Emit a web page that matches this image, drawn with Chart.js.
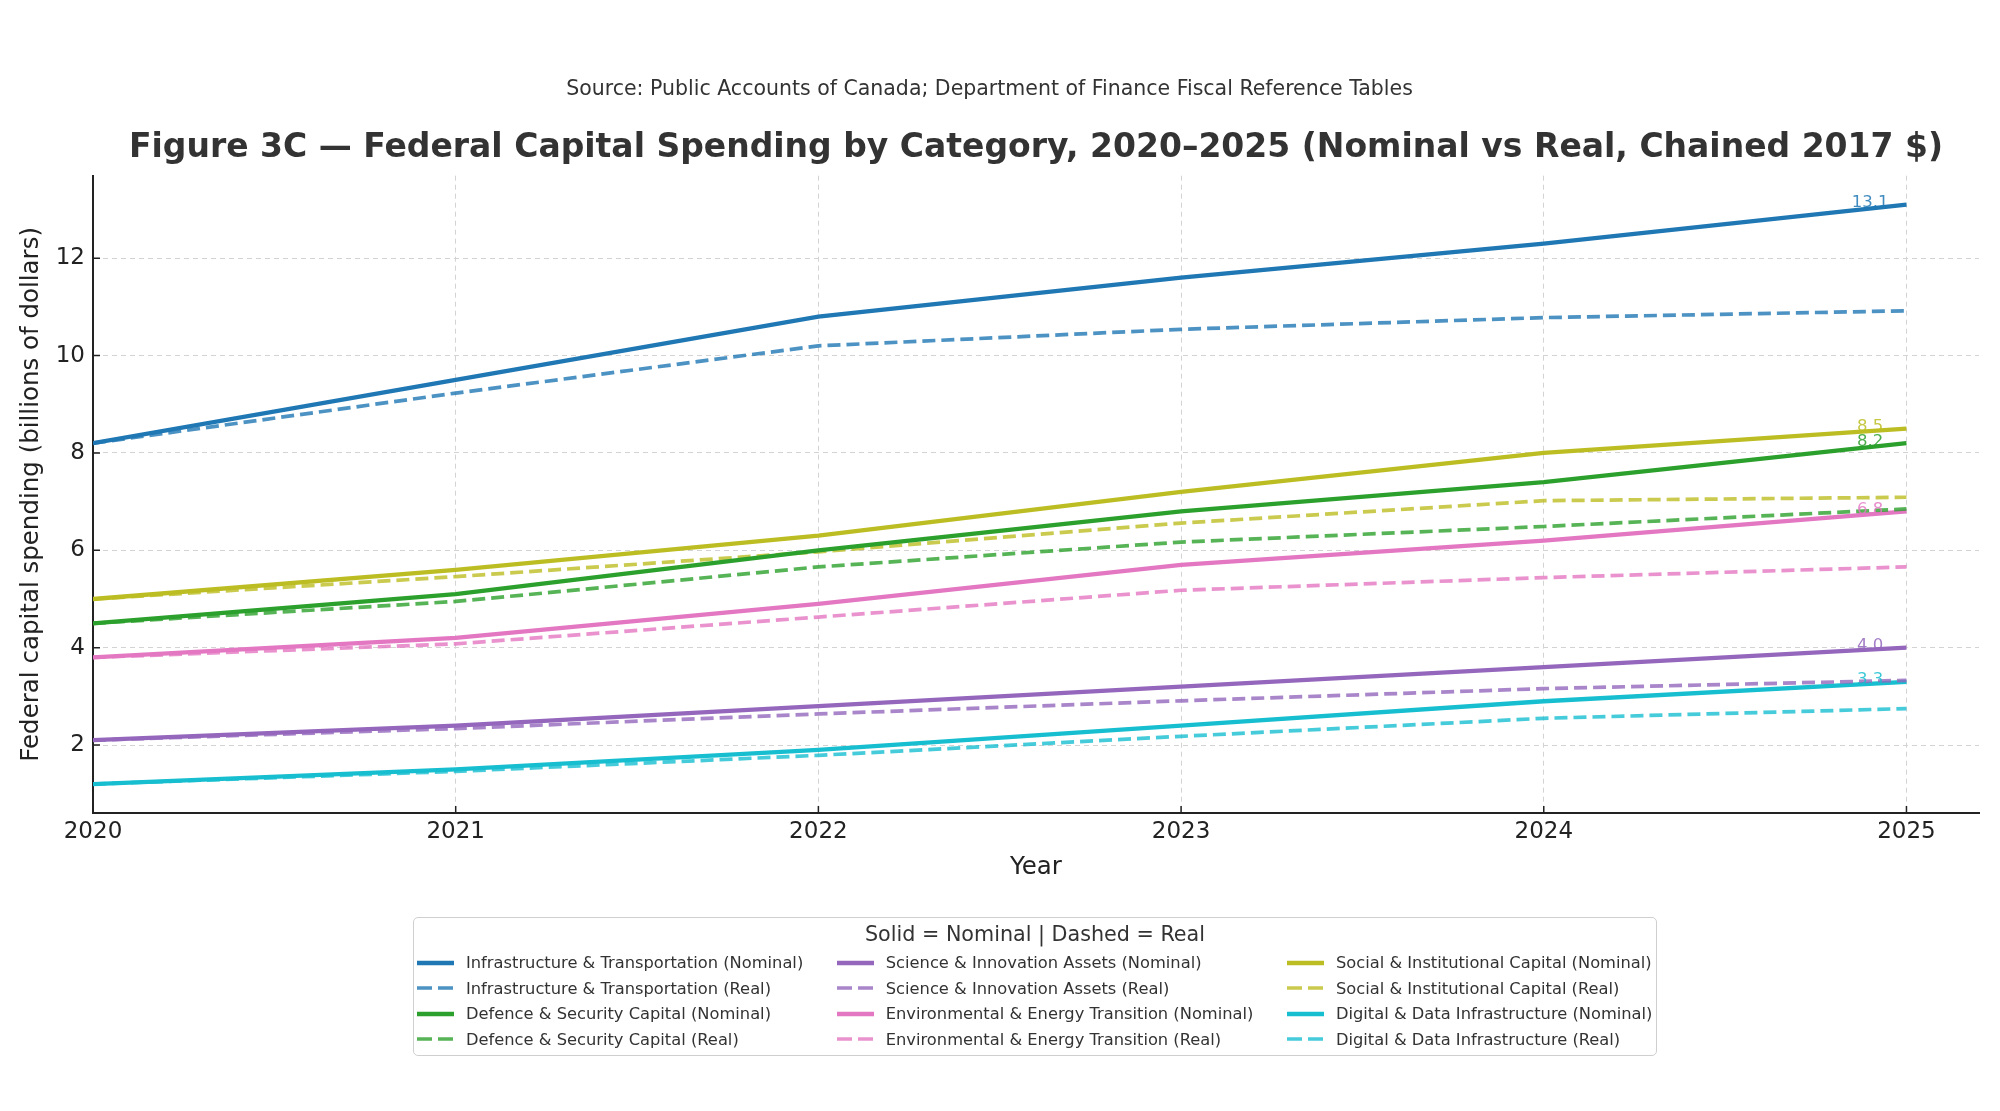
<!DOCTYPE html>
<html>
<head>
<meta charset="utf-8">
<title>Figure 3C</title>
<script src="https://cdn.jsdelivr.net/npm/chart.js@4.4.1/dist/chart.umd.min.js"></script>
<style>
    body { margin: 0; background: #fff; }
    #wrap { position: relative; width: 2000px; height: 1111px; font-family: "DejaVu Sans", sans-serif; }
    #legend {
        position: absolute; left: 413px; top: 917px; width: 1244px; height: 139px;
        box-sizing: border-box; border: 1px solid #cfcfcf; border-radius: 5px;
        color: #333; background: rgba(255,255,255,0.8);
    }
    #legend .title { font-size: 20.7px; line-height: 24px; text-align: center; margin-top: 4px; }
    #legend .grid {
        display: grid; grid-auto-flow: column; grid-template-rows: repeat(4, 25.5px);
        column-gap: 30px; margin-top: 4px; padding-left: 3px;
    }
    #legend .item { display: flex; align-items: center; font-size: 16.3px; white-space: nowrap; }
    #legend svg { margin-right: 12px; flex: none; }
</style>
</head>
<body>
<div id="wrap">
    <canvas id="chart" width="2000" height="1111"></canvas>
    <div id="legend">
        <div class="title">Solid = Nominal | Dashed = Real</div>
        <div class="grid"></div>
    </div>
</div>
<script>
// values, billions of dollars
const years = [2020, 2021, 2022, 2023, 2024, 2025];
const yTicks = [2, 4, 6, 8, 10, 12];

const categories = [
    'Infrastructure & Transportation',
    'Defence & Security Capital',
    'Science & Innovation Assets',
    'Environmental & Energy Transition',
    'Social & Institutional Capital',
    'Digital & Data Infrastructure'
];

const infraNominal   = [8.2, 9.5, 10.8, 11.6, 12.3, 13.1];
const infraReal      = [8.2, 9.23, 10.2, 10.54, 10.78, 10.92];
const defenceNominal = [4.5, 5.1, 6.0, 6.8, 7.4, 8.2];
const defenceReal    = [4.5, 4.95, 5.66, 6.17, 6.49, 6.85];
const scienceNominal = [2.1, 2.4, 2.8, 3.2, 3.6, 4.0];
const scienceReal    = [2.1, 2.34, 2.64, 2.91, 3.16, 3.33];
const envNominal     = [3.8, 4.2, 4.9, 5.7, 6.2, 6.8];
const envReal        = [3.8, 4.08, 4.63, 5.18, 5.44, 5.66];
const socialNominal  = [5.0, 5.6, 6.3, 7.2, 8.0, 8.5];
const socialReal     = [5.0, 5.46, 5.97, 6.56, 7.02, 7.09];
const digitalNominal = [1.2, 1.5, 1.9, 2.4, 2.9, 3.3];
const digitalReal    = [1.2, 1.46, 1.79, 2.18, 2.55, 2.75];

const nominalSeries = [infraNominal, defenceNominal, scienceNominal, envNominal, socialNominal, digitalNominal];
const realSeries = [infraReal, defenceReal, scienceReal, envReal, socialReal, digitalReal];

const palette = ['31,119,180', '44,160,44', '148,103,189', '227,119,194', '188,189,34', '23,190,207'];

const FONT = '"DejaVu Sans", sans-serif';
const DASH = [13, 6];

function toPoints(values) {
    return values.map((v, i) => ({x: years[i], y: v}));
}

const datasets = [];
categories.forEach((name, i) => {
    datasets.push({
        label: name + ' (Nominal)',
        data: toPoints(nominalSeries[i]),
        borderColor: `rgb(${palette[i]})`,
        borderWidth: 4.3,
        real: false
    });
    datasets.push({
        label: name + ' (Real)',
        data: toPoints(realSeries[i]),
        borderColor: `rgba(${palette[i]},0.8)`,
        borderWidth: 3.7,
        borderDash: DASH,
        real: true
    });
});

// final nominal value written just left of each line end
const endLabels = {
    id: 'endLabels',
    afterDatasetsDraw(chart) {
        const {ctx, scales: {x, y}} = chart;
        ctx.save();
        ctx.font = '16.5px ' + FONT;
        ctx.textAlign = 'center';
        ctx.textBaseline = 'middle';
        nominalSeries.forEach((vals, i) => {
            const last = vals[vals.length - 1];
            ctx.fillStyle = `rgba(${palette[i]},0.85)`;
            ctx.fillText(last.toFixed(1), x.getPixelForValue(years[years.length - 1] - 0.1), y.getPixelForValue(last) - 2);
        });
        ctx.restore();
    }
};

// matplotlib style ticks pointing into the plot
const innerTicks = {
    id: 'innerTicks',
    afterDraw(chart) {
        const {ctx, chartArea, scales: {x, y}} = chart;
        ctx.save();
        ctx.strokeStyle = '#222';
        ctx.lineWidth = 1.5;
        ctx.beginPath();
        y.ticks.forEach(t => {
            const py = y.getPixelForValue(t.value);
            ctx.moveTo(chartArea.left, py);
            ctx.lineTo(chartArea.left + 7, py);
        });
        x.ticks.forEach(t => {
            const px = x.getPixelForValue(t.value);
            ctx.moveTo(px, chartArea.bottom);
            ctx.lineTo(px, chartArea.bottom - 7);
        });
        ctx.stroke();
        ctx.restore();
    }
};

const chart = new Chart(document.getElementById('chart'), {
    type: 'line',
    data: {datasets: datasets},
    options: {
        responsive: false,
        animation: false,
        devicePixelRatio: 1,
        elements: {point: {radius: 0}, line: {tension: 0}},
        layout: {padding: {left: 0, right: 21, top: 0, bottom: 218}},
        plugins: {
            legend: {display: false},
            tooltip: {enabled: false},
            title: {
                display: true,
                text: 'Source: Public Accounts of Canada; Department of Finance Fiscal Reference Tables',
                color: '#333',
                font: {family: FONT, size: 20.5, weight: 'normal'},
                padding: {top: 77, bottom: 0}
            },
            subtitle: {
                display: true,
                fullSize: false,
                text: 'Figure 3C \u2014 Federal Capital Spending by Category, 2020\u20132025 (Nominal vs Real, Chained 2017 $)',
                color: '#333',
                font: {family: FONT, size: 33, weight: 'bold'},
                padding: {top: 27.5, bottom: 7}
            }
        },
        scales: {
            x: {
                type: 'linear',
                min: 2020,
                max: 2025.2,
                afterBuildTicks: s => { s.ticks = years.map(v => ({value: v})); },
                afterFit: s => { s.height = 80; },
                ticks: {
                    color: '#222',
                    font: {family: FONT, size: 23},
                    padding: 5,
                    maxRotation: 0,
                    callback: v => String(v)
                },
                grid: {color: '#d3d3d3', lineWidth: 1, drawTicks: false},
                border: {display: true, color: '#222', width: 2, dash: [5, 4]},
                title: {display: true, text: 'Year', color: '#222', font: {family: FONT, size: 24.5}, padding: {top: 11, bottom: 11}}
            },
            y: {
                type: 'linear',
                min: 0.605,
                max: 13.695,
                afterBuildTicks: s => { s.ticks = yTicks.map(v => ({value: v})); },
                afterFit: s => { s.width = 93; },
                ticks: {
                    color: '#222',
                    font: {family: FONT, size: 23},
                    padding: 8,
                    callback: v => String(v)
                },
                grid: {color: '#d3d3d3', lineWidth: 1, drawTicks: false},
                border: {display: true, color: '#222', width: 2, dash: [5, 4]},
                title: {display: true, text: 'Federal capital spending (billions of dollars)', color: '#222', font: {family: FONT, size: 24.5}, padding: {top: 17, bottom: 17}}
            }
        }
    },
    plugins: [endLabels, innerTicks]
});

// legend in columns, like the original figure
const grid = document.querySelector('#legend .grid');
chart.data.datasets.forEach(ds => {
    const item = document.createElement('div');
    item.className = 'item';
    const dash = ds.real ? ` stroke-dasharray="${DASH[0] + 2} ${DASH[1]}"` : '';
    item.innerHTML = `<svg width="37" height="10"><line x1="0" y1="5" x2="37" y2="5" stroke="${ds.borderColor}" stroke-width="${ds.real ? 3.7 : 4.3}"${dash}/></svg><span>${ds.label}</span>`;
    grid.appendChild(item);
});
</script>
</body>
</html>
